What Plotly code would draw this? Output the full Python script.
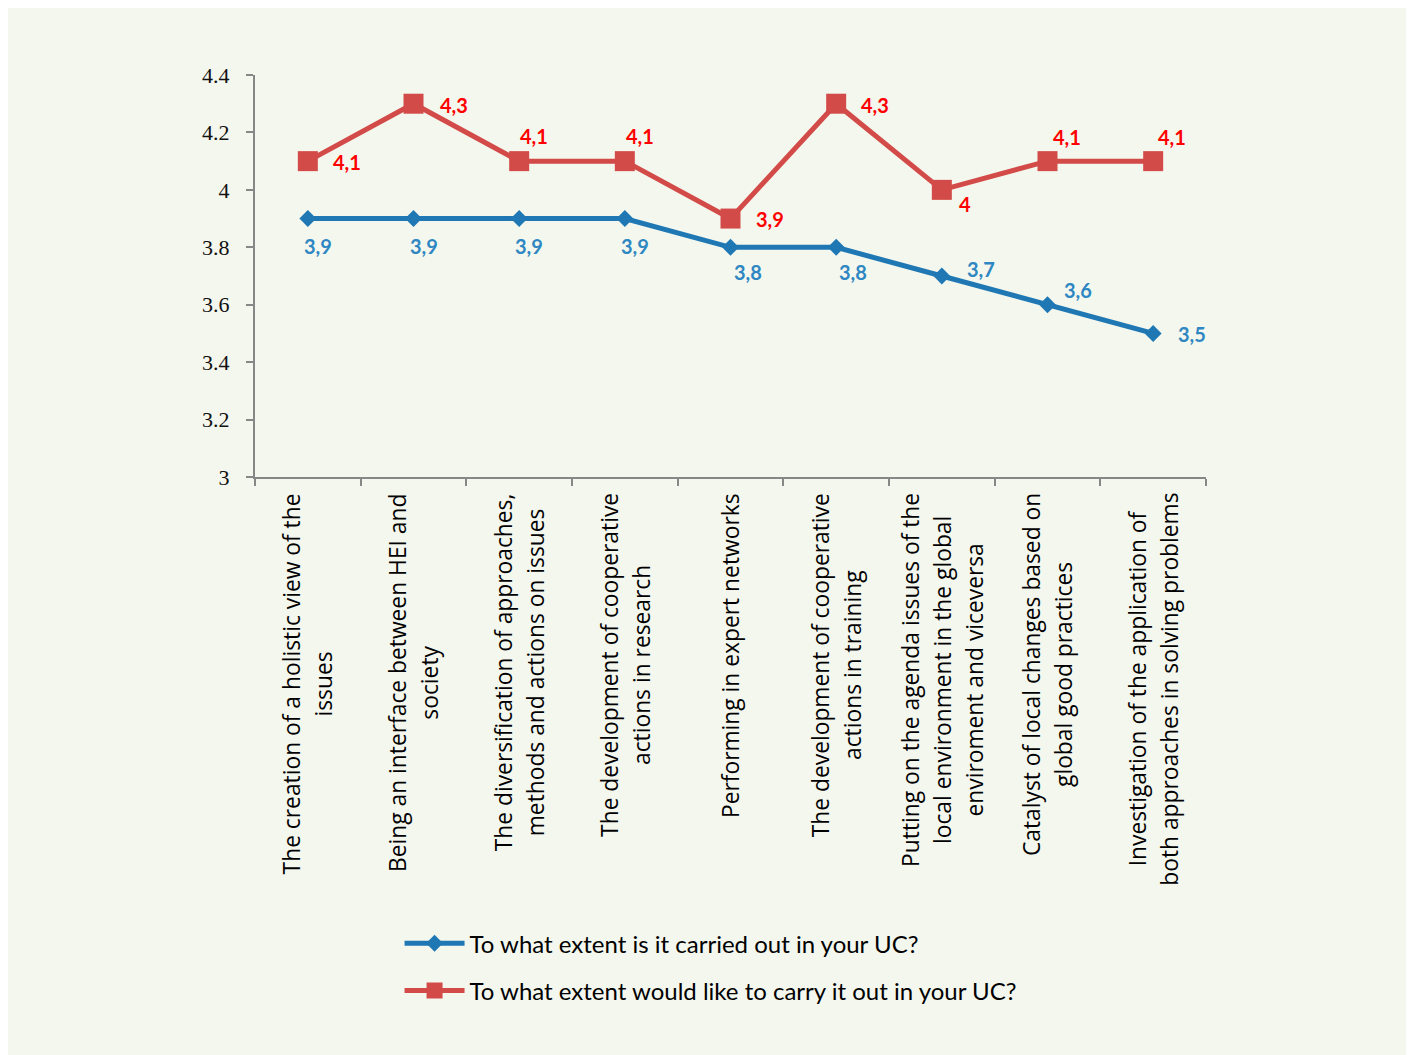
import plotly.graph_objects as go

# ---- data ----
categories = [
    "The creation of a holistic view of the<br>issues",
    "Being an interface between HEI and<br>society",
    "The diversification of approaches,<br>methods and actions on issues",
    "The development of cooperative<br>actions in research",
    "Performing in expert networks",
    "The development of cooperative<br>actions in training",
    "Putting on the agenda issues of the<br>local environment in the global<br>enviroment and viceversa",
    "Catalyst of local changes based on<br>global good practices",
    "Investigation of the application of<br>both approaches in solving problems",
]
carried_out = [3.9, 3.9, 3.9, 3.9, 3.8, 3.8, 3.7, 3.6, 3.5]
would_like = [4.1, 4.3, 4.1, 4.1, 3.9, 4.3, 4.0, 4.1, 4.1]
series_names = [
    "To what extent is it carried out in your UC?",
    "To what extent would like to carry it out in your UC?",
]
y_tick_values = [3, 3.2, 3.4, 3.6, 3.8, 4, 4.2, 4.4]
y_tick_labels = ["3", "3.2", "3.4", "3.6", "3.8", "4", "4.2", "4.4"]

# ---- label offsets (pixels) ----
blue_dx = [10, 10, 10, 10, 17, 17, 39, 30, 39]
blue_dy = [-27, -27, -27, -27, -25, -25, 7, 15, -1]
red_dx = [39, 40, 15, 15, 39, 39, 23, 19, 19]
red_dy = [-1, -1, 25, 25, 0, -1, -14, 24, 24]

BLUE_LINE = "#1F78B4"
RED_LINE = "#D34B48"
BLUE_TEXT = "#2E87C2"
RED_TEXT = "#FF0000"
AXIS_GREY = "#878787"
BG = "#F4F7EE"


def fmt(v):
    return f"{v:g}".replace(".", ",")


fig = go.Figure()
fig.add_trace(go.Scatter(
    x=categories, y=carried_out, name=series_names[0], mode="lines+markers",
    line=dict(color=BLUE_LINE, width=5),
    marker=dict(symbol="diamond", size=13, color=BLUE_LINE),
    legendgroup="a",
))
fig.add_trace(go.Scatter(
    x=categories, y=would_like, name=series_names[1], mode="lines+markers",
    line=dict(color=RED_LINE, width=5),
    marker=dict(symbol="square", size=20, color=RED_LINE),
    legendgroup="b",
))

annotations = []
for i, c in enumerate(categories):
    annotations.append(dict(
        x=c, y=carried_out[i], xref="x", yref="y", text=fmt(carried_out[i]),
        showarrow=False, xshift=blue_dx[i], yshift=blue_dy[i],
        font=dict(family="Lato", size=20, color=BLUE_TEXT, weight="bold"),
    ))
    annotations.append(dict(
        x=c, y=would_like[i], xref="x", yref="y", text=fmt(would_like[i]),
        showarrow=False, xshift=red_dx[i], yshift=red_dy[i],
        font=dict(family="Lato", size=20, color=RED_TEXT, weight="bold"),
    ))
    lines = c.split("<br>")
    txt = "<br>".join(f"<span style='font-size:22.8px'>{ln}</span>" for ln in lines)
    annotations.append(dict(
        x=c, y=-0.035, xref="x", yref="paper", text=txt, textangle=-90,
        showarrow=False, xanchor="center", yanchor="top", align="center",
        font=dict(family="Open Sans", size=24.6, color="#000000"),
    ))

fig.update_layout(
    width=1414, height=1047,
    margin=dict(l=247, r=216, t=67, b=578, autoexpand=False),
    paper_bgcolor=BG,
    plot_bgcolor="rgba(0,0,0,0)",
    annotations=annotations,
    showlegend=True,
    legend=dict(
        x=0.152, xanchor="left", y=-1.105, yanchor="top",
        orientation="v", traceorder="grouped", tracegroupgap=13,
        font=dict(family="Lato", size=24, color="#000000"),
        bgcolor="rgba(0,0,0,0)", itemwidth=60,
    ),
    xaxis=dict(
        type="category", range=[-0.5, 8.5], showticklabels=False,
        tickson="boundaries", ticks="outside", ticklen=7, tickwidth=2,
        tickcolor=AXIS_GREY, showline=True, linecolor=AXIS_GREY, linewidth=2,
        showgrid=False, zeroline=False, fixedrange=True,
    ),
    yaxis=dict(
        range=[3, 4.4], tickvals=y_tick_values, ticktext=y_tick_labels,
        ticks="outside", ticklen=7, tickwidth=2, tickcolor=AXIS_GREY,
        showline=True, linecolor=AXIS_GREY, linewidth=2,
        showgrid=False, zeroline=False, ticklabelstandoff=12,
        tickfont=dict(family="Liberation Serif", size=22, color="#111111"),
    ),
)

fig.write_html("out.html")
